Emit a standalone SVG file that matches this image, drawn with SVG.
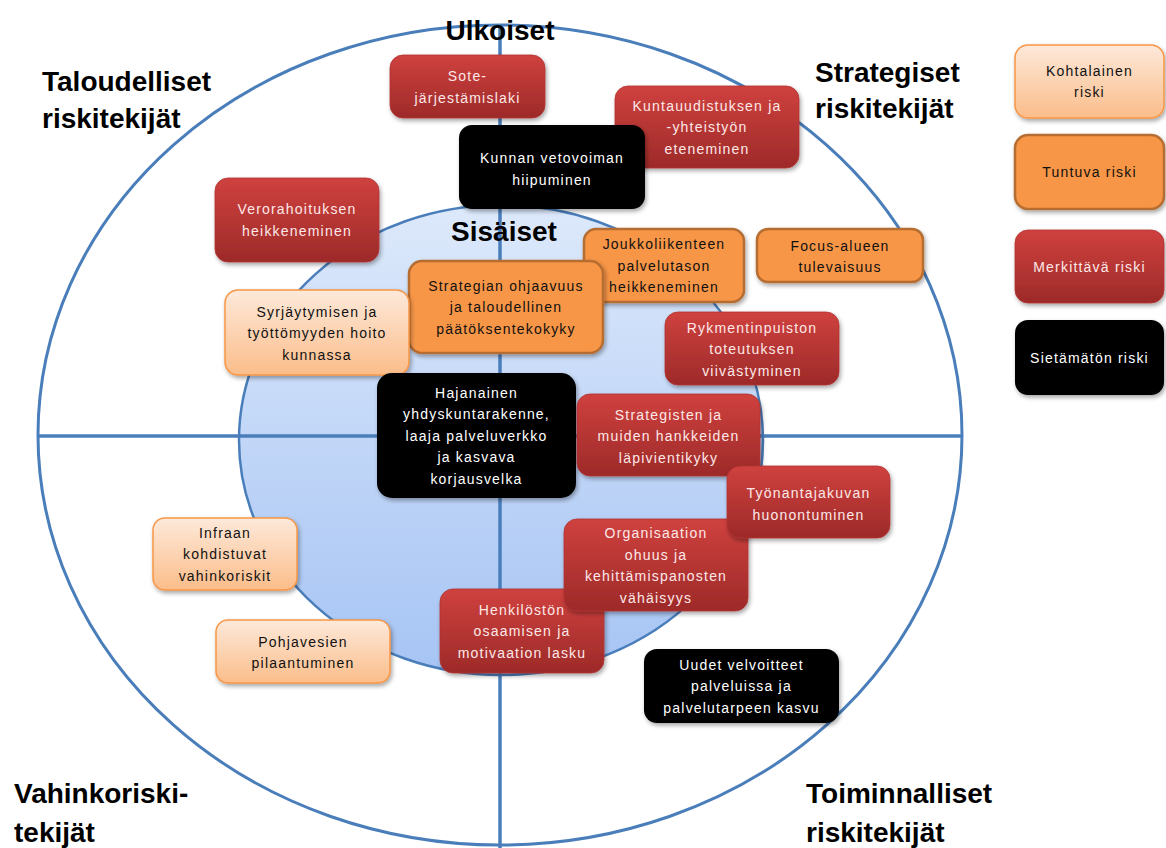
<svg xmlns="http://www.w3.org/2000/svg" width="1166" height="848" viewBox="0 0 1166 848">
<defs>
<linearGradient id="gRed" x1="0" y1="0" x2="0" y2="1"><stop offset="0" stop-color="#cf413e"/><stop offset="1" stop-color="#9d2a29"/></linearGradient>
<linearGradient id="gLight" x1="0" y1="0" x2="0" y2="1"><stop offset="0" stop-color="#fde9da"/><stop offset="1" stop-color="#fbbd8a"/></linearGradient>
<linearGradient id="gInner" x1="0" y1="0" x2="0" y2="1"><stop offset="0" stop-color="#dde9fb"/><stop offset="1" stop-color="#a6c4f4"/></linearGradient>
<filter id="sh" x="-10%" y="-10%" width="130%" height="140%"><feDropShadow dx="1.5" dy="2.5" stdDeviation="2" flood-color="#000" flood-opacity="0.35"/></filter>
<style>
.ring{fill:none;stroke:#4a7ebb;stroke-width:3}
.inner{fill:url(#gInner);stroke:#4a7ebb;stroke-width:2.5}
.axis{stroke:#4a7ebb;stroke-width:3.5}
.big{font-family:"Liberation Sans",Arial,sans-serif;font-weight:bold;font-size:28px;fill:#000}
.node rect{filter:url(#sh)}
.node text{font-family:"Liberation Sans",Arial,sans-serif;font-size:14px;letter-spacing:1.2px;text-anchor:middle}
.red rect{fill:url(#gRed);stroke:#b03432;stroke-width:0.8}
.red text{fill:#fde8e8}
.light rect{fill:url(#gLight);stroke:#f79646;stroke-width:1.5}
.light text{fill:#111}
.orange rect{fill:#f79646;stroke:#b66d31;stroke-width:2.5}
.orange text{fill:#111}
.black rect{fill:#000}
.black text{fill:#fff}
</style>
</defs>
<rect width="1166" height="848" fill="#fff"/>
<g id="background">
<ellipse class="ring" cx="500" cy="435" rx="462" ry="410"/>
<ellipse class="inner" cx="501" cy="440" rx="262" ry="235"/>
</g>
<g id="connectors">
<line class="axis" x1="37" y1="436" x2="963" y2="436"/>
<line class="axis" x1="500" y1="25" x2="500" y2="848"/>
</g>
<g id="labels">
<text class="big" x="500" y="40" text-anchor="middle">Ulkoiset</text>
<text class="big" x="504" y="241" text-anchor="middle" font-size="27">Sisäiset</text>
<text class="big" x="42" y="91">Taloudelliset</text>
<text class="big" x="42" y="128">riskitekijät</text>
<text class="big" x="815" y="82">Strategiset</text>
<text class="big" x="815" y="118">riskitekijät</text>
<text class="big" x="14" y="803">Vahinkoriski-</text>
<text class="big" x="14" y="842">tekijät</text>
<text class="big" x="806" y="803">Toiminnalliset</text>
<text class="big" x="806" y="842">riskitekijät</text>
</g>
<g id="n-sote" class="node red"><rect x="390" y="55" width="155" height="63" rx="13"/><text><tspan x="467.5" y="81">Sote-</tspan><tspan x="467.5" y="102.5">järjestämislaki</tspan></text></g>
<g id="n-kuntauudistus" class="node red"><rect x="615" y="86" width="184" height="82" rx="13"/><text><tspan x="707" y="110.5">Kuntauudistuksen ja</tspan><tspan x="707" y="132">-yhteistyön</tspan><tspan x="707" y="153.5">eteneminen</tspan></text></g>
<g id="n-kunnan" class="node black"><rect x="459" y="125" width="186" height="84" rx="13"/><text><tspan x="552" y="163">Kunnan vetovoiman</tspan><tspan x="552" y="184.5">hiipuminen</tspan></text></g>
<g id="n-verorahoitus" class="node red"><rect x="215" y="178" width="164" height="84" rx="13"/><text><tspan x="297" y="214">Verorahoituksen</tspan><tspan x="297" y="235.5">heikkeneminen</tspan></text></g>
<g id="n-joukkoliikenne" class="node orange"><rect x="584" y="229" width="160" height="73" rx="12"/><text><tspan x="664" y="249">Joukkoliikenteen</tspan><tspan x="664" y="270.5">palvelutason</tspan><tspan x="664" y="292">heikkeneminen</tspan></text></g>
<g id="n-strategian" class="node orange"><rect x="409" y="261" width="194" height="92" rx="13"/><text><tspan x="506" y="290.5">Strategian ohjaavuus</tspan><tspan x="506" y="312">ja taloudellinen</tspan><tspan x="506" y="333.5">päätöksentekokyky</tspan></text></g>
<g id="n-focus" class="node orange"><rect x="757" y="229" width="166" height="53" rx="11"/><text><tspan x="840" y="250.5">Focus-alueen</tspan><tspan x="840" y="272">tulevaisuus</tspan></text></g>
<g id="n-syrjaytyminen" class="node light"><rect x="225" y="290" width="184" height="85" rx="13"/><text><tspan x="317" y="316.5">Syrjäytymisen ja</tspan><tspan x="317" y="338">työttömyyden hoito</tspan><tspan x="317" y="359.5">kunnassa</tspan></text></g>
<g id="n-rykmentinpuisto" class="node red"><rect x="665" y="312" width="174" height="73" rx="13"/><text><tspan x="752" y="332.5">Rykmentinpuiston</tspan><tspan x="752" y="354">toteutuksen</tspan><tspan x="752" y="375.5">viivästyminen</tspan></text></g>
<g id="n-hajanainen" class="node black"><rect x="377" y="373" width="199" height="125" rx="15"/><text><tspan x="476.5" y="397.5">Hajanainen</tspan><tspan x="476.5" y="419">yhdyskuntarakenne,</tspan><tspan x="476.5" y="440.5">laaja palveluverkko</tspan><tspan x="476.5" y="462">ja kasvava</tspan><tspan x="476.5" y="483.5">korjausvelka</tspan></text></g>
<g id="n-strategisten" class="node red"><rect x="577" y="394" width="183" height="82" rx="13"/><text><tspan x="668.5" y="419.5">Strategisten ja</tspan><tspan x="668.5" y="441">muiden hankkeiden</tspan><tspan x="668.5" y="462.5">läpivientikyky</tspan></text></g>
<g id="n-henkilosto" class="node red"><rect x="440" y="589" width="164" height="84" rx="13"/><text><tspan x="522" y="614.5">Henkilöstön</tspan><tspan x="522" y="636">osaamisen ja</tspan><tspan x="522" y="657.5">motivaation lasku</tspan></text></g>
<g id="n-organisaatio" class="node red"><rect x="564" y="519" width="184" height="92" rx="13"/><text><tspan x="656" y="538">Organisaation</tspan><tspan x="656" y="559.5">ohuus ja</tspan><tspan x="656" y="581">kehittämispanosten</tspan><tspan x="656" y="602.5">vähäisyys</tspan></text></g>
<g id="n-tyonantaja" class="node red"><rect x="727" y="466" width="163" height="72" rx="13"/><text><tspan x="808.5" y="498">Työnantajakuvan</tspan><tspan x="808.5" y="519.5">huonontuminen</tspan></text></g>
<g id="n-infraan" class="node light"><rect x="153" y="518" width="144" height="72" rx="12"/><text><tspan x="225" y="537.5">Infraan</tspan><tspan x="225" y="559">kohdistuvat</tspan><tspan x="225" y="580.5">vahinkoriskit</tspan></text></g>
<g id="n-pohjavesi" class="node light"><rect x="216" y="620" width="174" height="63" rx="12"/><text><tspan x="303" y="646.5">Pohjavesien</tspan><tspan x="303" y="668">pilaantuminen</tspan></text></g>
<g id="n-uudet" class="node black"><rect x="644" y="649" width="195" height="74" rx="13"/><text><tspan x="741.5" y="669.5">Uudet velvoitteet</tspan><tspan x="741.5" y="691">palveluissa ja</tspan><tspan x="741.5" y="712.5">palvelutarpeen kasvu</tspan></text></g>
<g id="legend">
<g id="l-kohtalainen" class="node light"><rect x="1015" y="45" width="149" height="73" rx="13"/><text><tspan x="1089.5" y="75.5">Kohtalainen</tspan><tspan x="1089.5" y="97">riski</tspan></text></g>
<g id="l-tuntuva" class="node orange"><rect x="1015" y="135" width="149" height="74" rx="13"/><text><tspan x="1089.5" y="177">Tuntuva riski</tspan></text></g>
<g id="l-merkittava" class="node red"><rect x="1015" y="230" width="149" height="73" rx="13"/><text><tspan x="1089.5" y="272">Merkittävä riski</tspan></text></g>
<g id="l-sietamaton" class="node black"><rect x="1015" y="320" width="149" height="75" rx="13"/><text><tspan x="1089.5" y="363">Sietämätön riski</tspan></text></g>
</g>
</svg>
